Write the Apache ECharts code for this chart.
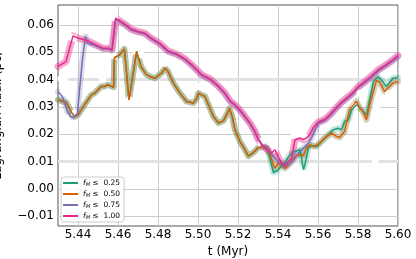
<!DOCTYPE html>
<html><head><meta charset="utf-8">
<script src="https://cdn.jsdelivr.net/npm/echarts@6/dist/echarts.min.js"></script>
<style>html,body{margin:0;padding:0;background:#fff}#c{width:416px;height:259px}</style>
</head><body><div id="c"></div>
<script>
const xTicks = [5.44,5.46,5.48,5.50,5.52,5.54,5.56,5.58,5.60];
const yTicks = [-0.01,0.00,0.01,0.02,0.03,0.04,0.05,0.06];
const refLines = [0.04,0.01];
const legendVals = ['0.25','0.50','0.75','1.00'];
const X_MIN = 5.43, X_MAX = 5.60, Y_MIN = -0.0136, Y_MAX = 0.0673;

const tGreen = [5.4300,5.4342,5.4367,5.4383,5.4400,5.4417,5.4433,5.4450,5.4467,5.4483,5.4500,5.4517,5.4533,5.4550,5.4567,5.4578,5.4582,5.4607,5.4632,5.4637,5.4655,5.4693,5.4715,5.4740,5.4760,5.4785,5.4818,5.4835,5.4850,5.4877,5.4910,5.4943,5.4977,5.4993,5.5002,5.5018,5.5035,5.5052,5.5077,5.5102,5.5127,5.5147,5.5157,5.5172,5.5185,5.5210,5.5235,5.5252,5.5277,5.5300,5.5320,5.5345,5.5360,5.5377,5.5387,5.5400,5.5418,5.5435,5.5450,5.5468,5.5485,5.5510,5.5518,5.5527,5.5535,5.5552,5.5568,5.5593,5.5618,5.5635,5.5675,5.5700,5.5717,5.5733,5.5752,5.5768,5.5793,5.5827,5.5843,5.5877,5.5900,5.5917,5.5942,5.5975,5.6000];
const yGreen = [0.0326,0.0316,0.0280,0.0265,0.0271,0.0289,0.0308,0.0326,0.0344,0.0350,0.0363,0.0375,0.0375,0.0381,0.0375,0.0372,0.0480,0.0490,0.0512,0.0505,0.0326,0.0503,0.0448,0.0420,0.0411,0.0405,0.0424,0.0442,0.0430,0.0387,0.0350,0.0320,0.0314,0.0330,0.0350,0.0344,0.0338,0.0308,0.0265,0.0241,0.0249,0.0277,0.0295,0.0262,0.0216,0.0173,0.0143,0.0120,0.0133,0.0150,0.0155,0.0150,0.0110,0.0060,0.0054,0.0068,0.0085,0.0095,0.0115,0.0130,0.0137,0.0143,0.0112,0.0070,0.0090,0.0150,0.0159,0.0155,0.0173,0.0186,0.0216,0.0222,0.0216,0.0247,0.0253,0.0289,0.0308,0.0283,0.0271,0.0393,0.0411,0.0399,0.0375,0.0405,0.0408];

const tOrange = [5.4300,5.4342,5.4367,5.4383,5.4400,5.4417,5.4433,5.4450,5.4467,5.4483,5.4500,5.4517,5.4533,5.4550,5.4567,5.4578,5.4582,5.4607,5.4632,5.4637,5.4655,5.4693,5.4715,5.4740,5.4760,5.4785,5.4818,5.4835,5.4850,5.4877,5.4910,5.4943,5.4977,5.4993,5.5002,5.5018,5.5035,5.5052,5.5077,5.5102,5.5127,5.5147,5.5157,5.5172,5.5185,5.5210,5.5235,5.5252,5.5277,5.5300,5.5320,5.5345,5.5360,5.5377,5.5385,5.5400,5.5418,5.5435,5.5445,5.5468,5.5485,5.5510,5.5527,5.5542,5.5558,5.5583,5.5608,5.5633,5.5667,5.5692,5.5708,5.5733,5.5758,5.5792,5.5808,5.5825,5.5842,5.5858,5.5892,5.5908,5.5933,5.5958,5.5975,5.6000];
const yOrange = [0.0326,0.0316,0.0280,0.0265,0.0271,0.0289,0.0308,0.0326,0.0344,0.0350,0.0363,0.0375,0.0375,0.0381,0.0375,0.0372,0.0480,0.0490,0.0512,0.0505,0.0326,0.0503,0.0448,0.0420,0.0411,0.0405,0.0424,0.0442,0.0430,0.0387,0.0350,0.0320,0.0314,0.0330,0.0350,0.0344,0.0338,0.0308,0.0265,0.0241,0.0249,0.0277,0.0295,0.0262,0.0216,0.0173,0.0143,0.0120,0.0133,0.0150,0.0155,0.0150,0.0125,0.0088,0.0076,0.0094,0.0088,0.0075,0.0078,0.0100,0.0118,0.0125,0.0122,0.0149,0.0161,0.0155,0.0167,0.0186,0.0204,0.0192,0.0188,0.0210,0.0289,0.0320,0.0296,0.0283,0.0253,0.0308,0.0396,0.0391,0.0356,0.0375,0.0387,0.0393];

const tPurple = [5.4300,5.4322,5.4347,5.4363,5.4380,5.4397,5.4422,5.4438,5.4447,5.4490,5.4525,5.4555,5.4570,5.4578,5.4588,5.4615,5.4640,5.4665,5.4700,5.4735,5.4760,5.4810,5.4850,5.4895,5.4935,5.4975,5.5020,5.5060,5.5100,5.5135,5.5160,5.5185,5.5210,5.5235,5.5260,5.5285,5.5300,5.5318,5.5343,5.5352,5.5385,5.5418,5.5435,5.5452,5.5477,5.5502,5.5527,5.5552,5.5568,5.5585,5.5602,5.5635,5.5660,5.5685,5.5718,5.5752,5.5777,5.5802,5.5835,5.5868,5.5902,5.5935,5.5968,5.6000];
const yPurple = [0.0356,0.0338,0.0283,0.0263,0.0263,0.0277,0.0473,0.0558,0.0534,0.0524,0.0512,0.0512,0.0506,0.0507,0.0621,0.0609,0.0597,0.0582,0.0573,0.0567,0.0552,0.0529,0.0502,0.0490,0.0473,0.0447,0.0414,0.0400,0.0375,0.0347,0.0319,0.0305,0.0286,0.0262,0.0238,0.0207,0.0185,0.0166,0.0148,0.0140,0.0112,0.0088,0.0082,0.0088,0.0106,0.0130,0.0149,0.0167,0.0186,0.0215,0.0240,0.0251,0.0268,0.0288,0.0314,0.0334,0.0350,0.0371,0.0389,0.0410,0.0432,0.0448,0.0465,0.0484];

const tPink = [5.4300,5.4340,5.4375,5.4400,5.4455,5.4490,5.4525,5.4555,5.4570,5.4578,5.4588,5.4615,5.4640,5.4665,5.4700,5.4735,5.4760,5.4810,5.4850,5.4895,5.4935,5.4975,5.5020,5.5060,5.5100,5.5135,5.5160,5.5185,5.5210,5.5235,5.5260,5.5285,5.5300,5.5318,5.5343,5.5368,5.5385,5.5400,5.5418,5.5435,5.5452,5.5468,5.5485,5.5510,5.5527,5.5543,5.5560,5.5577,5.5602,5.5635,5.5660,5.5685,5.5718,5.5752,5.5777,5.5802,5.5835,5.5868,5.5902,5.5935,5.5968,5.6000];
const yPink = [0.0448,0.0466,0.0560,0.0552,0.0540,0.0527,0.0515,0.0515,0.0509,0.0510,0.0625,0.0612,0.0600,0.0585,0.0576,0.0570,0.0555,0.0532,0.0505,0.0493,0.0476,0.0450,0.0417,0.0403,0.0378,0.0350,0.0322,0.0308,0.0289,0.0265,0.0241,0.0210,0.0182,0.0160,0.0145,0.0132,0.0143,0.0118,0.0094,0.0086,0.0100,0.0112,0.0180,0.0186,0.0180,0.0186,0.0200,0.0225,0.0245,0.0255,0.0272,0.0292,0.0318,0.0338,0.0354,0.0375,0.0393,0.0414,0.0436,0.0452,0.0469,0.0488];

const tanT = [5.4322,5.4340,5.4339,5.4347,5.4382,5.4523,5.4532,5.4582,5.4657,5.4690,5.4718,5.4835,5.4843,5.5007,5.5018,5.5027,5.5432,5.5785,5.5810,5.5893,5.5935,5.5952];
const tanY = [0.0350,0.0369,0.0241,0.0259,0.0277,0.0400,0.0344,0.0485,0.0326,0.0503,0.0490,0.0460,0.0381,0.0375,0.0265,0.0369,0.0033,0.0302,0.0350,0.0302,0.0418,0.0350];
const pinkCT = [5.4315,5.4335,5.4365,5.4380,5.4585,5.5315,5.5385,5.5480,5.5510,5.5535];
const pinkCY = [0.0403,0.0403,0.0555,0.0552,0.0625,0.0165,0.0145,0.0195,0.0195,0.0190];
const tealT = [5.5318,5.5510,5.5527,5.5535,5.5527,5.5885];
const tealY = [0.0173,0.0070,0.0057,0.0020,0.0039,0.0100];

const zip = (a,b) => a.map((v,i)=>[v,b[i]]);
const FONT = 'DejaVu Sans';
const colors = ['#1b9e77','#d95f02','#7570b3','#e7298a'];
const halos = ['rgba(27,158,119,0.25)','rgba(150,135,80,0.40)','rgba(117,112,179,0.25)','rgba(231,41,138,0.40)'];
const names = legendVals.map(v => 'f_M ≤ ' + v);
const lineData = [zip(tGreen,yGreen), zip(tOrange,yOrange), zip(tPurple,yPurple), zip(tPink,yPink)];

const series = [];
refLines.forEach(v => series.push({type:'line', data:[[X_MIN,v],[X_MAX,v]], showSymbol:false, silent:true, z:0,
  lineStyle:{color:'#e2e2e2', width:3}}));
// halos
lineData.forEach((d,i)=>{
  series.push({type:'line', data:d, showSymbol:false, silent:true, z:1,
    lineStyle:{color:halos[i], width:i===3?7:6, cap:'round', join:'round'}});
});
// circles
const circ = (t,y,c)=>({type:'scatter', data:zip(t,y), symbol:'emptyCircle', symbolSize:5, z:2, silent:true,
  itemStyle:{color:'#fff', opacity:1, borderColor:c, borderWidth:1}});
series.push(circ(tanT,tanY,'rgba(160,150,110,0.55)'));
series.push(circ(pinkCT,pinkCY,'rgba(231,41,138,0.25)'));
series.push(circ(tealT,tealY,'rgba(27,158,119,0.3)'));
// main lines
lineData.forEach((d,i)=>{
  series.push({name:names[i], type:'line', data:d, showSymbol:false, z:3,
    itemStyle:{color:colors[i]}, lineStyle:{color:colors[i], width:1.5}});
});

const chart = echarts.init(document.getElementById('c'), null, {renderer:'canvas'});
chart.setOption({
  animation:false,
  textStyle:{fontFamily:FONT},
  grid:{left:58, right:18, top:5, bottom:33, show:true, borderColor:'#555', borderWidth:1, backgroundColor:'transparent', containLabel:false, outerBoundsMode:'none'},
  xAxis:{type:'value', min:X_MIN, max:X_MAX,
    name:'t (Myr)', nameLocation:'middle', nameGap:15, nameTextStyle:{fontFamily:FONT, fontSize:12, color:'#000'},
    axisLine:{show:false},
    axisTick:{show:false, customValues:xTicks},
    axisLabel:{customValues:xTicks, formatter:v=>Number(v).toFixed(2), fontFamily:FONT, fontSize:12, color:'#000', margin:3},
    splitLine:{show:true, lineStyle:{color:'#cccccc', width:1}}},
  yAxis:{type:'value', min:Y_MIN, max:Y_MAX,
    name:'Lagrangian Radii (pc)', nameLocation:'middle', nameGap:54, nameTextStyle:{fontFamily:FONT, fontSize:12, color:'#000'},
    axisLine:{show:false},
    axisTick:{show:false, customValues:yTicks},
    axisLabel:{customValues:yTicks, formatter:v=>Number(v).toFixed(2).replace('-','\u2212'), fontFamily:FONT, fontSize:12, color:'#000', margin:4},
    splitLine:{show:true, lineStyle:{color:'#cccccc', width:1}}},
  legend:{data:names, orient:'vertical', left:61, top:177, icon:'rect', itemWidth:15, itemHeight:2, itemGap:3,
    padding:[2,4,2,2], borderColor:'#ccc', borderWidth:1, borderRadius:3, backgroundColor:'rgba(255,255,255,0.85)',
    formatter: n => { const v = n.split('≤ ')[1]; return '{i|f}{s|M}{n| ≤  ' + v + '}'; },
    textStyle:{fontFamily:FONT, fontSize:7.5, color:'#000',
      rich:{i:{fontStyle:'italic', fontSize:7.5, fontFamily:FONT, lineHeight:8},
            s:{fontStyle:'italic', fontSize:5, fontFamily:FONT, padding:[3,0,0,0], lineHeight:8},
            n:{fontSize:7.5, fontFamily:FONT, lineHeight:8}}}},
  series: series
});
</script></body></html>
